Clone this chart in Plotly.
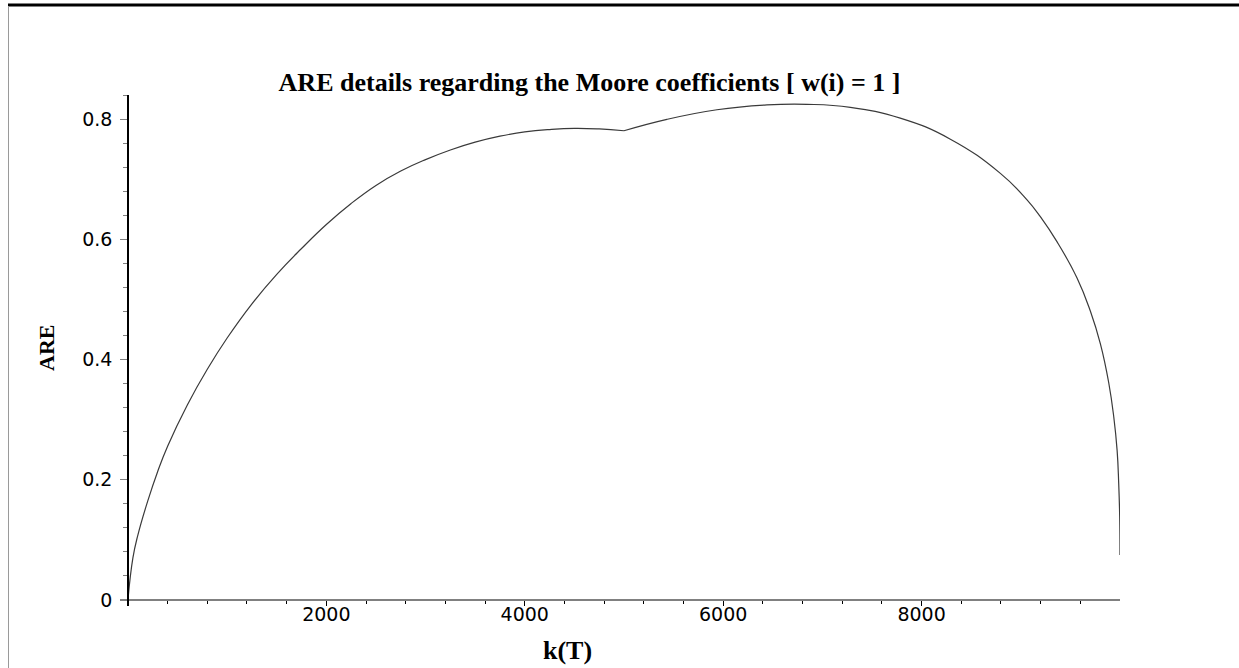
import plotly.graph_objects as go

# ARE curve sampled along k(T)
k_vals = [0, 50, 100, 200, 300, 400, 600, 800, 1000, 1250, 1500, 1750, 2000,
          2250, 2500, 2750, 3000, 3250, 3500, 3750, 4000, 4250, 4500, 4750,
          5000, 5433, 5937, 6441, 6845, 7282, 7785, 8290, 8794, 9063, 9197,
          9366, 9567, 9701, 9803, 9886, 9937, 9971, 9987, 9997, 10000]
are_vals = [0, 0.070, 0.108, 0.165, 0.214, 0.256, 0.325, 0.384, 0.436, 0.493,
            0.542, 0.585, 0.625, 0.660, 0.690, 0.714, 0.733, 0.749, 0.762,
            0.772, 0.779, 0.783, 0.785, 0.784, 0.781, 0.800, 0.816, 0.824,
            0.825, 0.820, 0.802, 0.767, 0.710, 0.666, 0.638, 0.596, 0.536,
            0.481, 0.426, 0.362, 0.305, 0.249, 0.194, 0.138, 0.075]

x_major = [2000, 4000, 6000, 8000]
x_major_text = ["2000", "4000", "6000", "8000"]
y_major = [0, 0.2, 0.4, 0.6, 0.8]
y_major_text = ["0", "0.2", "0.4", "0.6", "0.8"]

title_text = "ARE details regarding the Moore coefficients [ w(i) = 1 ]"
x_title = "k(T)"
y_title = "ARE"

# the curve has a corner at k = 5000: smooth each side separately
split = k_vals.index(5000)
segments = [(k_vals[:split + 1], are_vals[:split + 1]),
            (k_vals[split:], are_vals[split:])]

X_RANGE = [-80, 10000]
Y_RANGE = [-0.01, 0.8405]

fig = go.Figure()
for xs, ys in segments:
    fig.add_trace(go.Scatter(
        x=xs, y=ys, mode="lines",
        line=dict(color="#3a3a3a", width=1.2, shape="spline", smoothing=1.3),
        hoverinfo="skip", showlegend=False))

x_minor = [v * 400 for v in range(1, 25) if (v * 400) % 2000 != 0]
y_minor = [round(v * 0.04, 2) for v in range(1, 22) if v % 5 != 0]

# positions of the origin as fractions of the plotting area
x0_frac = (0 - X_RANGE[0]) / (X_RANGE[1] - X_RANGE[0])
y0_frac = (0 - Y_RANGE[0]) / (Y_RANGE[1] - Y_RANGE[0])

tick_font = dict(family="DejaVu Sans", size=19, color="#000000")
serif_bold = "Liberation Serif"

fig.update_layout(
    width=1239, height=668,
    margin=dict(l=120, r=119, t=95, b=62),
    paper_bgcolor="white", plot_bgcolor="white",
    title=dict(text="<b>" + title_text + "</b>", x=0.4758, xref="container",
               xanchor="center", y=1 - 82 / 668, yref="container",
               yanchor="middle",
               font=dict(family=serif_bold, size=26, color="#000000")),
    xaxis=dict(range=X_RANGE, showgrid=False, zeroline=False,
               anchor="free", position=y0_frac,
               showline=True, linecolor="#808080", linewidth=2,
               tickmode="array", tickvals=x_major, ticktext=x_major_text,
               ticks="outside", ticklen=5, tickwidth=1, tickcolor="#000000",
               minor=dict(tickmode="array", tickvals=x_minor, ticks="outside",
                          ticklen=3, tickwidth=1, tickcolor="#000000"),
               ticklabelstandoff=-8,
               tickfont=tick_font),
    yaxis=dict(range=Y_RANGE, showgrid=False, zeroline=False,
               anchor="free", position=x0_frac,
               showline=True, linecolor="#000000", linewidth=1.5,
               tickmode="array", tickvals=y_major, ticktext=y_major_text,
               ticks="outside", ticklen=7, tickwidth=1, tickcolor="#808080",
               minor=dict(tickmode="array", tickvals=y_minor, ticks="outside",
                          ticklen=4, tickwidth=1, tickcolor="#808080"),
               ticklabelstandoff=4,
               tickfont=tick_font),
    annotations=[
        dict(text="<b>" + x_title + "</b>", xref="paper", yref="paper",
             x=(567 - 120) / 1000, y=(606 - 650) / 511,
             xanchor="center", yanchor="middle", showarrow=False,
             font=dict(family=serif_bold, size=26, color="#000000")),
        dict(text="<b>" + y_title + "</b>", xref="paper", yref="paper",
             x=(46 - 120) / 1000, y=(606 - 348) / 511, textangle=-90,
             xanchor="center", yanchor="middle", showarrow=False,
             font=dict(family=serif_bold, size=22, color="#000000")),
    ],
    shapes=[
        # page frame: heavy rule along the top, thin rule down the left
        dict(type="line", xref="paper", yref="paper",
             x0=(8 - 120) / 1000, x1=(1239 - 120) / 1000,
             y0=(606 - 5) / 511, y1=(606 - 5) / 511,
             line=dict(color="#000000", width=3)),
        dict(type="line", xref="paper", yref="paper",
             x0=(8.5 - 120) / 1000, x1=(8.5 - 120) / 1000,
             y0=(606 - 6) / 511, y1=(606 - 668) / 511,
             line=dict(color="#9a9a9a", width=1)),
    ],
)

fig.write_html("out.html")
